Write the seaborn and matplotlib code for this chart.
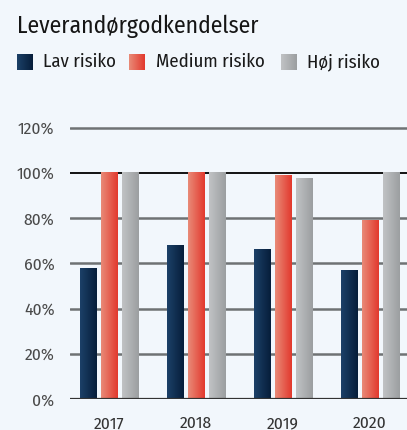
import numpy as np
import pandas as pd
import matplotlib
matplotlib.use("Agg")
import matplotlib.pyplot as plt
from matplotlib.colors import LinearSegmentedColormap
import seaborn as sns

years = ["2017", "2018", "2019", "2020"]
series = ["Lav risiko", "Medium risiko", "Høj risiko"]
lav = [57.8, 68.0, 66.2, 57.0]
medium = [100.0, 100.0, 98.6, 79.0]
hoj = [100.0, 100.0, 97.5, 100.0]
yticks = [0, 20, 40, 60, 80, 100, 120]
ytick_labels = ["0%", "20%", "40%", "60%", "80%", "100%", "120%"]
title = "Leverandørgodkendelser"

gradients = {
    "Lav risiko": ("#1c4168", "#061d3a"),
    "Medium risiko": ("#e98b78", "#e2382d"),
    "Høj risiko": ("#c1c3c5", "#9b9ea0"),
}
BG = "#f2f7fc"

sns.set_style("white")
plt.rcParams["font.family"] = ["Fira Sans Condensed", "DejaVu Sans"]

df = pd.DataFrame({
    "year": np.repeat(years, 3),
    "series": series * len(years),
    "value": [v for trip in zip(lav, medium, hoj) for v in trip],
})

W, H = 407, 430
fig = plt.figure(figsize=(W / 100, H / 100), dpi=100, facecolor=BG)

x0 = 69.85
ax_w = 87 * 3.9
y_bottom = 31
px_per_unit = 2.2625
ymax = 125
ax = fig.add_axes([x0 / W, y_bottom / H, ax_w / W, ymax * px_per_unit / H])
ax.set_facecolor(BG)

sns.barplot(data=df, x="year", y="value", hue="series", order=years,
            hue_order=series, width=0.724, gap=0.214, ax=ax, legend=False,
            palette=[gradients[s][1] for s in series], saturation=1,
            linewidth=0, zorder=3)

grad = np.linspace(0, 1, 256).reshape(1, -1)
cmaps = {s: LinearSegmentedColormap.from_list(s, list(gradients[s])) for s in series}
for i, container in enumerate(ax.containers):
    cmap = cmaps[series[i]]
    for p in container.patches:
        x, w, h = p.get_x(), p.get_width(), p.get_height()
        ax.imshow(grad, extent=[x, x + w, 0, h], aspect="auto", cmap=cmap,
                  interpolation="bilinear", zorder=3)
        p.set_visible(False)

ax.set_xlim(-0.45, 3.45)
ax.set_ylim(0, ymax)

for v in yticks:
    if v == 100:
        ax.axhline(v, color="#111111", lw=1.4, zorder=1)
    elif v == 0:
        ax.axhline(v, color="#333333", lw=1.6, zorder=4)
    else:
        ax.axhline(v, color="#6f7274", lw=1.8, zorder=1)

for s in ax.spines.values():
    s.set_visible(False)
ax.set_yticks(yticks)
ax.set_yticklabels(ytick_labels)
ax.tick_params(axis="y", length=0, pad=11, labelsize=12.5, labelcolor="#4a4a4a")
ax.tick_params(axis="x", length=0, pad=12, labelsize=12.5, labelcolor="#333333")
ax.set_xlabel("")
ax.set_ylabel("")

fig.text(17 / W, 1 - 26 / H, title, fontsize=17, color="#151515",
         ha="left", va="center")

ov = fig.add_axes([0, 0, 1, 1], facecolor="none")
leg_sq_x = [17, 129, 281]
leg_txt_x = [43, 156, 307]
for s, sx, tx in zip(series, leg_sq_x, leg_txt_x):
    ov.imshow(grad, extent=[sx, sx + 16, 70, 54], aspect="auto",
              cmap=cmaps[s], interpolation="bilinear")
    ov.text(tx, 62, s, fontsize=13.5, color="#1a1a1a", ha="left", va="center")
ov.set_xlim(0, W)
ov.set_ylim(H, 0)
ov.axis("off")

fig.savefig("out.png", dpi=100, facecolor=BG)
